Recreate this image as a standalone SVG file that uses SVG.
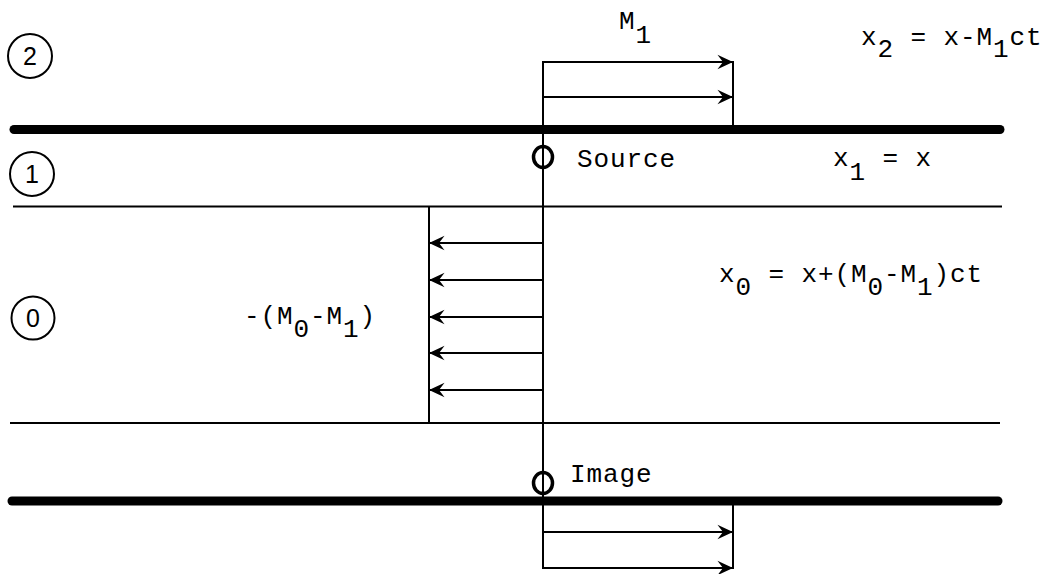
<svg xmlns="http://www.w3.org/2000/svg" width="1046" height="574" viewBox="0 0 1046 574">
  <style>
    .thick { stroke: #000; stroke-width: 9; fill: none; stroke-linecap: round; }
    .thin { stroke: #000; stroke-width: 2.2; fill: none; }
    .ln { stroke: #000; stroke-width: 2; fill: none; }
    .arr { stroke: #000; stroke-width: 2; fill: none; marker-end: url(#ah); }
    .tt { font-family: "Liberation Mono", "DejaVu Sans Mono", monospace; font-size: 26px; letter-spacing: 0.9px; fill: #000; white-space: pre; }
    .zone { stroke: #000; stroke-width: 2; fill: none; }
    .num { font-family: "Liberation Sans", Arial, sans-serif; font-size: 25px; fill: #000; text-anchor: middle; }
    .pt { stroke: #000; stroke-width: 3.5; fill: none; }
  </style>
  <defs>
    <marker id="ah" markerUnits="userSpaceOnUse" markerWidth="20" markerHeight="20" viewBox="-16 -8 18 16" refX="0" refY="0" orient="auto">
      <path d="M0,0 L-14,-6.5 L-9,0 L-14,6.5 Z" fill="#000"/>
    </marker>
  </defs>
  <rect width="1046" height="574" fill="#fff"/>

  <g id="boundaries">
    <line class="thick" x1="14" y1="129.5" x2="1000" y2="129.5"/>
    <line class="thin" x1="13" y1="206.5" x2="1002" y2="206.5"/>
    <line class="thin" x1="10" y1="423" x2="1000" y2="423"/>
    <line class="thick" x1="12" y1="501" x2="998" y2="501"/>
  </g>

  <g id="zone-labels">
    <g id="zone-2"><circle class="zone" cx="30" cy="56" r="22"/><text class="num" x="30" y="65">2</text></g>
    <g id="zone-1"><circle class="zone" cx="32" cy="174" r="22"/><text class="num" x="32" y="183">1</text></g>
    <g id="zone-0"><circle class="zone" cx="33" cy="318" r="21.5"/><text class="num" x="33" y="327">0</text></g>
  </g>

  <g id="connectors">
    <line class="ln" x1="543" y1="61" x2="543" y2="569"/>
    <!-- top profile -->
    <line class="arr" x1="543" y1="62" x2="733" y2="62"/>
    <line class="arr" x1="543" y1="97" x2="733" y2="97"/>
    <line class="ln" x1="733" y1="61" x2="733" y2="126"/>
    <!-- middle profile -->
    <line class="ln" x1="429" y1="207" x2="429" y2="423"/>
    <line class="arr" x1="543" y1="243" x2="429" y2="243"/>
    <line class="arr" x1="543" y1="280" x2="429" y2="280"/>
    <line class="arr" x1="543" y1="317" x2="429" y2="317"/>
    <line class="arr" x1="543" y1="353" x2="429" y2="353"/>
    <line class="arr" x1="543" y1="390" x2="429" y2="390"/>
    <!-- bottom profile -->
    <line class="ln" x1="733" y1="505" x2="733" y2="569"/>
    <line class="arr" x1="543" y1="532" x2="733" y2="532"/>
    <line class="arr" x1="543" y1="568" x2="733" y2="568"/>
  </g>

  <g id="source">
    <ellipse class="pt" cx="543" cy="157" rx="9.5" ry="10.5"/>
    <text class="tt" x="577" y="167">Source</text>
  </g>
  <g id="image">
    <ellipse class="pt" cx="543" cy="483" rx="9.5" ry="10.5"/>
    <text class="tt" x="570" y="482">Image</text>
  </g>

  <g id="labels">
    <text class="tt" x="619" y="29">M<tspan dy="14">1</tspan></text>
    <text class="tt" x="861" y="45">x<tspan dy="12">2</tspan><tspan dy="-12"> = x-M</tspan><tspan dy="12">1</tspan><tspan dy="-12">ct</tspan></text>
    <text class="tt" x="833" y="166">x<tspan dy="14">1</tspan><tspan dy="-14"> = x</tspan></text>
    <text class="tt" x="719" y="282">x<tspan dy="13">0</tspan><tspan dy="-13"> = x+(M</tspan><tspan dy="13">0</tspan><tspan dy="-13">-M</tspan><tspan dy="13">1</tspan><tspan dy="-13">)ct</tspan></text>
    <text class="tt" x="244" y="324">-(M<tspan dy="13">0</tspan><tspan dy="-13">-M</tspan><tspan dy="13">1</tspan><tspan dy="-13">)</tspan></text>
  </g>
</svg>
